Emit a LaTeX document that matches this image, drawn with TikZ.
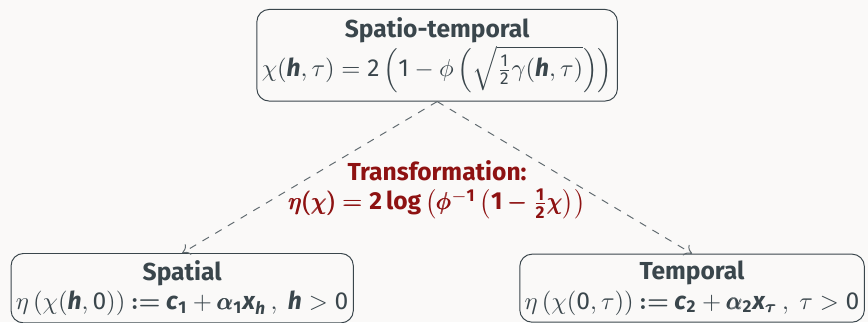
\documentclass[tikz,border=0pt]{standalone}
\usepackage{amsmath}
\usepackage{fontspec}
\setmainfont{Fira Sans}
\setsansfont{Fira Sans}
\usetikzlibrary{arrows.meta}
\definecolor{boxfg}{HTML}{3A464C}
\definecolor{alertred}{HTML}{8E1212}
\definecolor{bgcol}{HTML}{FAF9F8}
\newcommand{\vh}{\textbf{\textit{h}}}
\newcommand{\vc}{\textbf{\textit{c}}}
\newcommand{\vx}{\textbf{\textit{x}}}
\tikzset{
  block/.style={draw=boxfg, rounded corners=5pt, align=center, text=boxfg, inner xsep=2pt, inner ysep=3.5pt},
}
\begin{document}
\begin{tikzpicture}[level distance=3.33cm, level 1/.style={sibling distance=7.29cm},
    parent anchor=south, child anchor=north,
    edge from parent/.style={draw=boxfg!80, dashed, -{To[length=3pt,width=5pt]}}]
  \fill[bgcol] (-6.25,0.79) rectangle (6.16,-3.82);
  \useasboundingbox (-6.25,0.79) rectangle (6.16,-3.82);
  \node[block] (st) {\textbf{Spatio-temporal}\\
    $\chi(\vh,\tau) = \mathrm{2}\left(\mathrm{1}-\phi\left(\sqrt{\tfrac{\mathrm{1}}{\mathrm{2}}\gamma(\vh,\tau)}\right)\right)$}
  child {node[block, inner ysep=2.8pt] (sp) {\textbf{Spatial}\\
    $\eta\left(\chi(\vh,\mathrm{0})\right) \mathbin{\boldsymbol{:=}} \vc_{\mathbf{1}} + \pmb{\alpha}_{\mathbf{1}}\vx_{\vh}\,,\ \vh > \mathrm{0}$}}
  child {node[block, inner ysep=2.8pt] (tp) {\textbf{Temporal}\\
    $\eta\left(\chi(\mathrm{0},\tau)\right) \mathbin{\boldsymbol{:=}} \vc_{\mathbf{2}} + \pmb{\alpha}_{\mathbf{2}}\vx_{\pmb{\tau}}\,,\ \tau > \mathrm{0}$}};
  \node[text=alertred, align=center] (tf) at (0,-1.92) {\textbf{Transformation:}\\
    $\pmb{\eta}\pmb{(}\pmb{\chi}\pmb{)} \mathrel{\pmb{=}} \mathbf{2}\,\mathbf{log}\,\bigl(\pmb{\phi}^{\mathbf{-1}}\,\bigl(\mathbf{1}\mathbin{\pmb{-}}\tfrac{\mathbf{1}}{\mathbf{2}}\pmb{\chi}\bigr)\bigr)$};
\end{tikzpicture}
\end{document}
